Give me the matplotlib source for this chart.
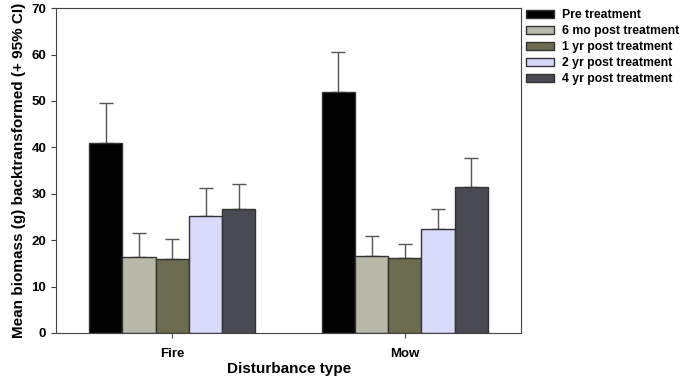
import numpy as np
import matplotlib.pyplot as plt

plt.rcParams['font.family'] = ['Liberation Sans', 'DejaVu Sans']
plt.rcParams['font.weight'] = 'bold'

groups = ['Fire', 'Mow']
treatments = ['Pre treatment', '6 mo post treatment', '1 yr post treatment',
              '2 yr post treatment', '4 yr post treatment']
colors = ['#000000', '#b8b8a8', '#6b6b50', '#d9d9fb', '#4a4a55']

# means per treatment: [Fire, Mow]
means = [[41.0, 52.0],
         [16.4, 16.6],
         [15.9, 16.1],
         [25.1, 22.3],
         [26.8, 31.5]]
# upper 95% CI
upper = [[49.6, 60.5],
         [21.5, 20.9],
         [20.2, 19.1],
         [31.3, 26.8],
         [32.1, 37.8]]

fig = plt.figure(figsize=(6.85, 3.8), dpi=100)
ax = fig.add_axes([0.0818, 0.1237, 0.679, 0.855])

x = np.arange(len(groups))
w = 0.143
for i, t in enumerate(treatments):
    pos = x + (i - 2) * w
    m = np.array(means[i])
    err = np.array(upper[i]) - m
    ax.bar(pos, m, w, color=colors[i], edgecolor='#333333', linewidth=1, label=t, zorder=2)
    ax.errorbar(pos, m, yerr=[np.zeros_like(err), err], fmt='none', ecolor='#555555',
                elinewidth=1, capsize=5, capthick=1, zorder=1)

ax.set_xlim(-0.5, 1.5)
ax.set_ylim(0, 70)
ax.set_yticks(range(0, 71, 10))
ax.set_xticks(x)
ax.set_xticklabels(groups)
for s in ax.spines.values():
    s.set_color('#444444')
ax.tick_params(axis='both', labelsize=9.5, direction='out', color='#444444')
ax.tick_params(axis='x', pad=7)
ax.set_xlabel('Disturbance type', fontsize=11, fontweight='bold', labelpad=2)
ax.set_ylabel('Mean biomass (g) backtransformed (+ 95% CI)', fontsize=11, fontweight='bold')

ax.legend(loc='upper left', bbox_to_anchor=(0.995, 1.02), frameon=False, fontsize=8.8,
          handlelength=2.3, handleheight=0.65, labelspacing=0.33, handletextpad=0.6,
          borderaxespad=0.2)

fig.savefig('out.png', dpi=100)
